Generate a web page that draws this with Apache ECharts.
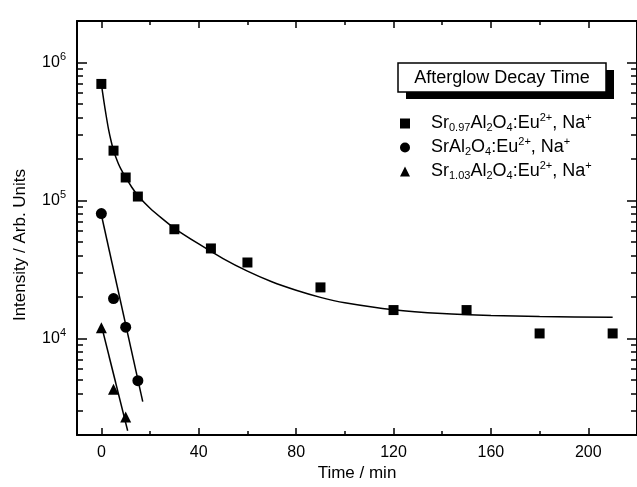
<!DOCTYPE html>
<html>
<head>
<meta charset="utf-8">
<script src="https://cdn.jsdelivr.net/npm/echarts@6/dist/echarts.min.js"></script>
<style>
  html, body { margin: 0; padding: 0; background: #fff; }
  #chart { width: 637px; height: 487px; }
</style>
</head>
<body>
<div id="chart"></div>
<script>
// Sample names (legend order)
const nameSr097 = 'Sr0.97Al2O4:Eu2+, Na+';
const nameSr100 = 'SrAl2O4:Eu2+, Na+';
const nameSr103 = 'Sr1.03Al2O4:Eu2+, Na+';

// Measured afterglow intensities
const timeSr097 = [0, 5, 10, 15, 30, 45, 60, 90, 120, 150, 180, 210];
const intSr097  = [7.0e5, 2.3e5, 1.47e5, 1.07e5, 6.2e4, 4.5e4, 3.56e4, 2.35e4, 1.61e4, 1.61e4, 1.09e4, 1.09e4];
const timeSr100 = [0, 5, 10, 15];
const intSr100  = [8.05e4, 1.95e4, 1.21e4, 4.96e3];
const timeSr103 = [0, 5, 10];
const intSr103  = [1.2e4, 4.3e3, 2.7e3];

// Fitted decay curves
const fitTimeSr097 = [0, 1, 2, 3, 4, 5, 6, 7, 8, 10, 12.5, 15, 20, 25, 30, 40, 50, 60, 70, 80, 90, 100,
                      120, 140, 160, 180, 210];
const fitIntSr097  = [7.0e5, 5.3e5, 4.1e5, 3.25e5, 2.7e5, 2.3e5, 2.05e5, 1.85e5, 1.7e5, 1.47e5, 1.25e5, 1.09e5,
                      8.8e4, 7.4e4, 6.3e4, 4.85e4, 3.8e4, 3.08e4, 2.58e4, 2.24e4, 1.99e4, 1.82e4,
                      1.62e4, 1.52e4, 1.47e4, 1.445e4, 1.43e4];
const fitTimeSr100 = [0, 17];
const fitIntSr100  = [7.9e4, 3.5e3];
const fitTimeSr103 = [0, 10.8];
const fitIntSr103  = [1.25e4, 2.15e3];

// Axis ticks
const xMajorTicks = [0, 40, 80, 120, 160, 200];
const xMinorTicks = [20, 60, 100, 140, 180];
const yMajorTicks = [1e4, 1e5, 1e6];
const yMinorSteps = [2, 3, 4, 5, 6, 7, 8, 9];
const yMinorTicks = [];
[1e3, 1e4, 1e5, 1e6].forEach(function (d) {
  yMinorSteps.forEach(function (m) {
    const v = d * m;
    if (v >= 2000 && v <= 2e6) yMinorTicks.push(v);
  });
});

const FONT = '"Liberation Sans", Arial, Helvetica, sans-serif';
const INK = '#000';

function pairs(xs, ys) { return xs.map(function (x, i) { return [x, ys[i]]; }); }

// Rich-text legend labels with chemical sub/superscripts
const legendLabels = {};
legendLabels[nameSr097] = '{g|}{t|Sr}{sb|0.97}{t|Al}{sb|2}{t|O}{sb|4}{t|:Eu}{sp|2+}{t|, Na}{sp|+}';
legendLabels[nameSr100] = '{g|}{t|SrAl}{sb|2}{t|O}{sb|4}{t|:Eu}{sp|2+}{t|, Na}{sp|+}';
legendLabels[nameSr103] = '{g|}{t|Sr}{sb|1.03}{t|Al}{sb|2}{t|O}{sb|4}{t|:Eu}{sp|2+}{t|, Na}{sp|+}';

const chart = echarts.init(document.getElementById('chart'), null, { renderer: 'canvas' });

const xRange = { min: -10, max: 220 };
const yRange = { min: 2000, max: 2e6 };
const lineStyleAxis = { color: INK, width: 2 };
const tickStyle = { color: INK, width: 1.5 };

function xAxisDef(position, ticks, len, showLine, labels) {
  return Object.assign({
    type: 'value', position: position, min: xRange.min, max: xRange.max,
    axisLine: { show: showLine, onZero: false, lineStyle: lineStyleAxis },
    axisTick: { show: true, inside: true, length: len, customValues: ticks, lineStyle: tickStyle },
    axisLabel: { show: false },
    splitLine: { show: false }
  }, labels || {});
}
function yAxisDef(position, ticks, len, showLine, labels) {
  return Object.assign({
    type: 'log', logBase: 10, position: position, min: yRange.min, max: yRange.max,
    axisLine: { show: showLine, onZero: false, lineStyle: lineStyleAxis },
    axisTick: { show: true, inside: true, length: len, customValues: ticks, lineStyle: tickStyle },
    axisLabel: { show: false },
    splitLine: { show: false }
  }, labels || {});
}

const option = {
  backgroundColor: '#fff',
  animation: false,
  grid: { left: 77, top: 21, width: 567, height: 416, containLabel: false },
  xAxis: [
    xAxisDef('bottom', xMajorTicks, 7, true, {
      name: 'Time / min', nameLocation: 'middle', nameGap: 27,
      nameTextStyle: { color: INK, fontFamily: FONT, fontSize: 17 },
      axisLabel: { show: true, customValues: xMajorTicks, color: INK, fontFamily: FONT, fontSize: 16, margin: 9 }
    }),
    xAxisDef('bottom', xMinorTicks, 4, false),
    xAxisDef('top', xMajorTicks, 7, true),
    xAxisDef('top', xMinorTicks, 4, false)
  ],
  yAxis: [
    yAxisDef('left', yMajorTicks, 10, true, {
      axisLabel: {
        show: true, customValues: yMajorTicks, margin: 11, color: INK, fontFamily: FONT,
        formatter: function (v) { return '{b|10}{s|' + Math.round(Math.log10(v)) + '}'; },
        rich: {
          b: { fontSize: 16, fontFamily: FONT, color: INK },
          s: { fontSize: 11, fontFamily: FONT, color: INK, padding: [0, 0, 12, 0] }
        }
      }
    }),
    yAxisDef('left', yMinorTicks, 6, false),
    yAxisDef('right', yMajorTicks, 10, true),
    yAxisDef('right', yMinorTicks, 6, false)
  ],
  legend: {
    data: [nameSr097, nameSr100, nameSr103],
    orient: 'vertical',
    left: 400, top: 112, padding: 0,
    itemWidth: 10, itemHeight: 10, itemGap: 3,
    selectedMode: false,
    formatter: function (name) { return legendLabels[name]; },
    textStyle: {
      color: INK, fontFamily: FONT, fontSize: 18,
      rich: {
        g: { width: 16 },
        t: { fontSize: 18, fontFamily: FONT, color: INK },
        sb: { fontSize: 11, fontFamily: FONT, color: INK, padding: [8, 0, 0, 0] },
        sp: { fontSize: 11, fontFamily: FONT, color: INK, padding: [0, 0, 12, 0] }
      }
    }
  },
  graphic: [
    { type: 'rect', shape: { x: 406, y: 70, width: 208, height: 29 }, style: { fill: INK }, silent: true },
    { type: 'rect', shape: { x: 398, y: 63, width: 208, height: 29 },
      style: { fill: '#fff', stroke: INK, lineWidth: 1.5 }, silent: true },
    { type: 'text', x: 502, y: 78,
      style: { text: 'Afterglow Decay Time', font: '18px ' + FONT, fill: INK, textAlign: 'center', textVerticalAlign: 'middle' },
      silent: true },
    { type: 'text', x: 20, y: 245, rotation: Math.PI / 2,
      style: { text: 'Intensity / Arb. Units', font: '17px ' + FONT, fill: INK, textAlign: 'center', textVerticalAlign: 'middle' },
      silent: true }
  ],
  series: [
    { name: 'fit-Sr097', type: 'line', data: pairs(fitTimeSr097, fitIntSr097), smooth: 0.2,
      showSymbol: false, symbol: 'none', lineStyle: { color: INK, width: 1.5 }, silent: true, z: 2 },
    { name: 'fit-Sr100', type: 'line', data: pairs(fitTimeSr100, fitIntSr100),
      showSymbol: false, symbol: 'none', lineStyle: { color: INK, width: 1.5 }, silent: true, z: 2 },
    { name: 'fit-Sr103', type: 'line', data: pairs(fitTimeSr103, fitIntSr103),
      showSymbol: false, symbol: 'none', lineStyle: { color: INK, width: 1.5 }, silent: true, z: 2 },
    { name: nameSr097, type: 'scatter', data: pairs(timeSr097, intSr097), symbol: 'rect', symbolSize: 10,
      itemStyle: { color: INK, opacity: 1 }, z: 3 },
    { name: nameSr100, type: 'scatter', data: pairs(timeSr100, intSr100), symbol: 'circle', symbolSize: 11,
      itemStyle: { color: INK, opacity: 1 }, z: 3 },
    { name: nameSr103, type: 'scatter', data: pairs(timeSr103, intSr103), symbol: 'triangle', symbolSize: 11,
      itemStyle: { color: INK, opacity: 1 }, z: 3 }
  ]
};

chart.setOption(option);
</script>
</body>
</html>
